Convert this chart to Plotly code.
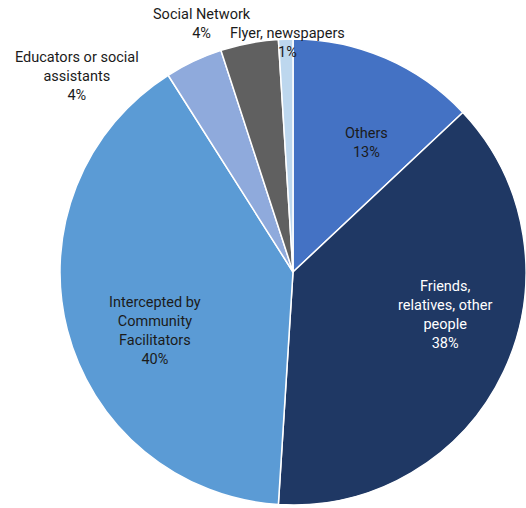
import plotly.graph_objects as go

# Source of referral (share of respondents, %)
categories = [
    "Others",
    "Friends, relatives, other people",
    "Intercepted by Community Facilitators",
    "Educators or social assistants",
    "Social Network",
    "Flyer, newspapers",
]
shares = [13, 38, 40, 4, 4, 1]

# Label text, split over lines as printed
label_lines = [
    ["Others"],
    ["Friends,", "relatives, other", "people"],
    ["Intercepted by", "Community", "Facilitators"],
    ["Educators or social", "assistants"],
    ["Social Network"],
    ["Flyer, newspapers"],
]

colors = ["#4472C4", "#1F3864", "#5B9BD5", "#8FAADC", "#606060", "#BDD7EE"]
text_colors = ["#1b1b1b", "#ffffff", "#1b1b1b", "#1b1b1b", "#1b1b1b", "#1b1b1b"]

W, H = 526, 508
FONT = "Roboto"

# Pixel placement of each label block (centre of the block)
label_pos = [(366, 143), (445, 315), (155, 331), (77, 77), (202, 24), (287, 43)]

fig = go.Figure(
    go.Pie(
        labels=categories,
        values=shares,
        sort=False,
        direction="clockwise",
        rotation=0,
        textinfo="none",
        hoverinfo="label+percent",
        marker=dict(colors=colors, line=dict(color="#ffffff", width=1.5)),
        domain=dict(x=[60 / W, 526 / W], y=[1 - 505 / H, 1 - 39 / H]),
        showlegend=False,
    )
)

total = sum(shares)
for name_lines, val, col, (px, py) in zip(label_lines, shares, text_colors, label_pos):
    pct = f"{round(100 * val / total)}%"
    fig.add_annotation(
        x=px / W,
        y=1 - py / H,
        xref="paper",
        yref="paper",
        text="<br>".join(name_lines + [pct]),
        showarrow=False,
        xanchor="center",
        yanchor="middle",
        align="center",
        font=dict(family=FONT, size=14.5, color=col),
    )

fig.update_layout(
    width=W,
    height=H,
    margin=dict(l=0, r=0, t=0, b=0),
    paper_bgcolor="#ffffff",
    plot_bgcolor="#ffffff",
)

fig.write_html("out.html")
